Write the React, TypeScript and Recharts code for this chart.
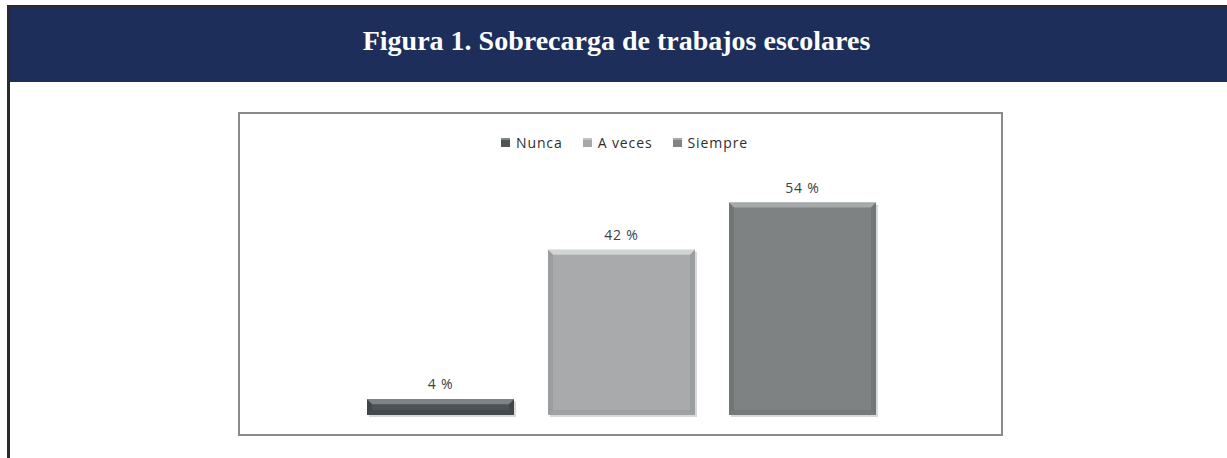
import { BarChart, Bar, XAxis, YAxis, LabelList } from 'recharts';

// Figura 1 — sobrecarga de trabajos escolares
const categories = ['Nunca', 'A veces', 'Siempre'];
const percentages = [4, 42, 54];

const bodyColors = ['#4c5255', '#a8aaab', '#7e8283'];
const topColors = ['#7d8386', '#d2d4d5', '#a7aaab'];
const sideColors = ['#3c4144', '#96989a', '#6c7071'];
const legendColors = ['#4f5456', '#a5a7a8', '#7f8384'];

const data = categories.map((name, i) => ({ name, value: percentages[i] }));

const FONT = '"Open Sans", "DejaVu Sans", sans-serif';

function BevelBar(props: any) {
  const { x, y, width: w, height: h, payload } = props;
  if (!w || !h) return null;
  const i = Math.max(0, categories.indexOf(payload?.name));
  const b = Math.min(5, h / 2 - 1);
  return (
    <g>
      <rect x={x + 2} y={y + 2} width={w} height={h} fill="#d9d9d9" />
      <rect x={x} y={y} width={w} height={h} fill={bodyColors[i]} />
      <polygon
        points={`${x},${y} ${x + w},${y} ${x + w - b},${y + b} ${x + b},${y + b}`}
        fill={topColors[i]}
      />
      <polygon
        points={`${x},${y} ${x + b},${y + b} ${x + b},${y + h - b} ${x},${y + h}`}
        fill={sideColors[i]}
        opacity={0.7}
      />
      <polygon
        points={`${x + w},${y} ${x + w - b},${y + b} ${x + w - b},${y + h - b} ${x + w},${y + h}`}
        fill={sideColors[i]}
        opacity={0.7}
      />
      <polygon
        points={`${x},${y + h} ${x + b},${y + h - b} ${x + w - b},${y + h - b} ${x + w},${y + h}`}
        fill={sideColors[i]}
        opacity={0.5}
      />
    </g>
  );
}

export default function App() {
  return (
    <div
      style={{
        position: 'absolute',
        left: 0,
        top: 0,
        width: 1227,
        height: 458,
        background: '#ffffff',
        overflow: 'hidden',
      }}
    >
      {/* outer frame */}
      <div
        style={{
          position: 'absolute',
          left: 7,
          top: 5,
          width: 1230,
          height: 460,
          borderLeft: '3px solid #2b2b2b',
          borderTop: '2px solid #2b2b2b',
          boxSizing: 'border-box',
        }}
      />
      {/* header band */}
      <div
        style={{
          position: 'absolute',
          left: 10,
          top: 7,
          width: 1217,
          height: 75,
          background: '#1e2e5a',
          color: '#ffffff',
          display: 'flex',
          alignItems: 'center',
          justifyContent: 'center',
          fontFamily: '"Liberation Serif", "Times New Roman", serif',
          fontWeight: 'bold',
          fontSize: 28,
          paddingBottom: 8,
          paddingRight: 4,
          boxSizing: 'border-box',
        }}
      >
        Figura 1. Sobrecarga de trabajos escolares
      </div>

      {/* chart box */}
      <div
        style={{
          position: 'absolute',
          left: 238,
          top: 112,
          width: 765,
          height: 324,
          border: '2px solid #8a8a8a',
          boxSizing: 'border-box',
          background: '#ffffff',
        }}
      >
        <div
          style={{
            position: 'absolute',
            top: 19,
            left: 0,
            width: 761,
            display: 'flex',
            justifyContent: 'center',
            gap: 20,
            fontFamily: FONT,
            fontSize: 14,
            letterSpacing: 0.9,
            color: '#2e2e2e',
            paddingLeft: 8,
            boxSizing: 'border-box',
          }}
        >
          {categories.map((c, i) => (
            <div key={c} style={{ display: 'flex', alignItems: 'center', gap: 6 }}>
              <div
                style={{
                  width: 9,
                  height: 9,
                  background: legendColors[i],
                  boxShadow: 'inset 0 2px 0 rgba(255,255,255,0.3)',
                }}
              />
              <span>{c}</span>
            </div>
          ))}
        </div>

        <BarChart
          width={761}
          height={320}
          data={data}
          margin={{ top: 65, right: 108, bottom: 19, left: 110 }}
          barCategoryGap={17}
        >
          <XAxis dataKey="name" hide />
          <YAxis hide domain={[0, 60]} />
          <Bar dataKey="value" isAnimationActive={false} shape={BevelBar}>
            <LabelList
              dataKey="value"
              position="top"
              offset={10}
              formatter={(v: any) => `${v} %`}
              fill="#404040"
              fontSize={14}
              fontFamily={FONT}
              letterSpacing={0.8}
            />
          </Bar>
        </BarChart>
      </div>
    </div>
  );
}
